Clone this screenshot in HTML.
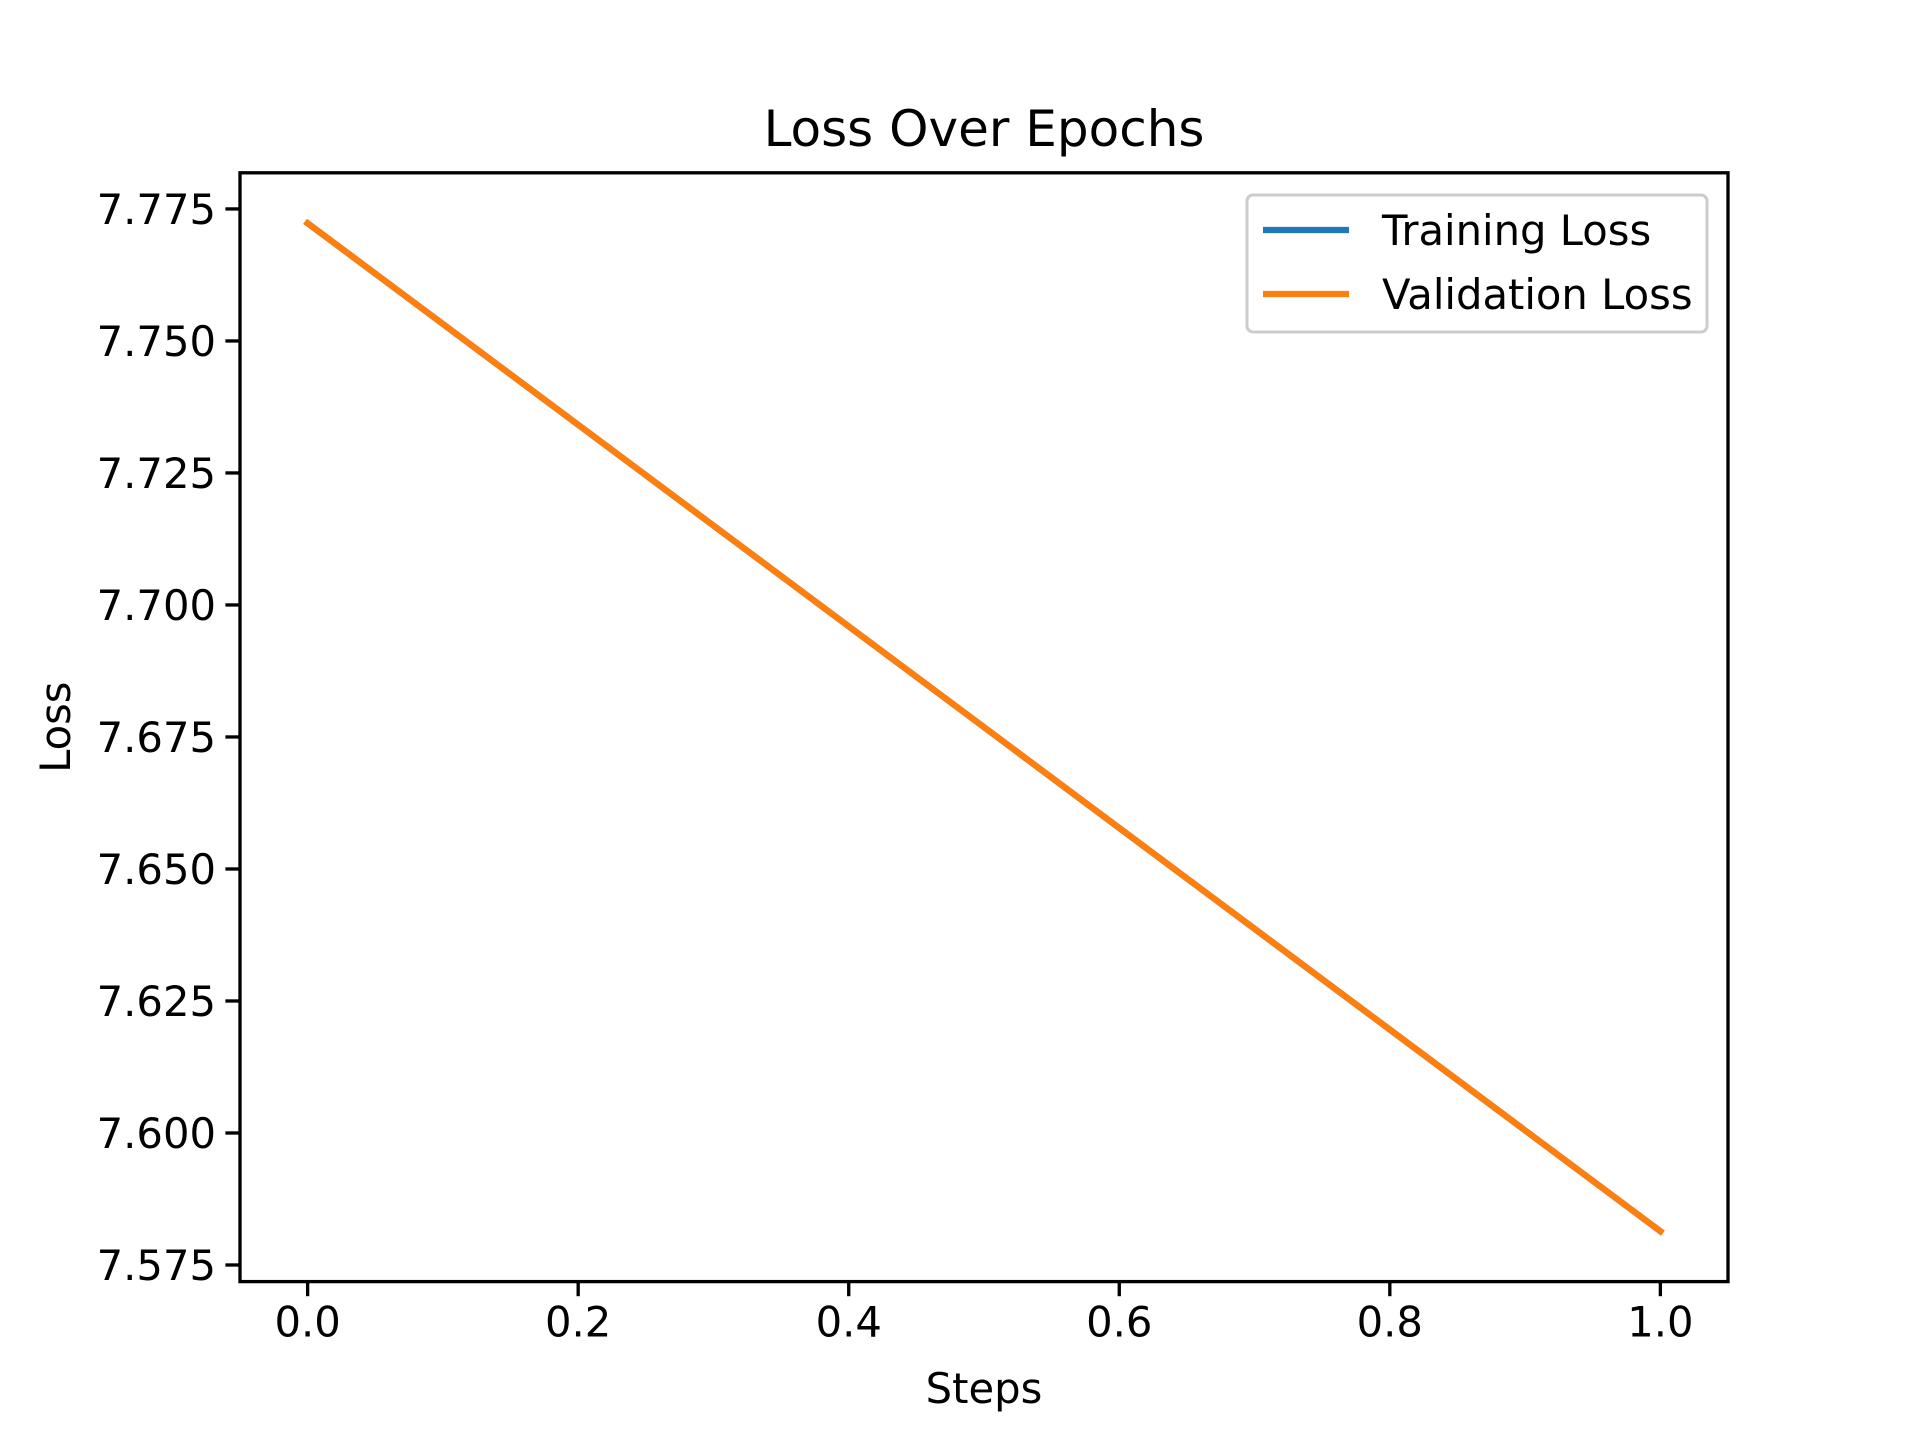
<!DOCTYPE html>
<html><head><meta charset="utf-8"><style>
html,body{margin:0;padding:0;background:#fff;}
svg{display:block;font-family:"DejaVu Sans","Liberation Sans",sans-serif;}
</style></head><body>
<svg id="chart" width="1920" height="1440" viewBox="0 0 1920 1440">
<rect width="1920" height="1440" fill="#fff"/>
<g id="plot"></g>
</svg>
<script>
const steps = [0, 1];
const trainingLoss = [7.7723, 7.5814];
const validationLoss = [7.7723, 7.5814];
const xTicks = [0.0, 0.2, 0.4, 0.6, 0.8, 1.0];
const xTickLabels = ["0.0","0.2","0.4","0.6","0.8","1.0"];
const yTicks = [7.575, 7.600, 7.625, 7.650, 7.675, 7.700, 7.725, 7.750, 7.775];
const yTickLabels = ["7.575","7.600","7.625","7.650","7.675","7.700","7.725","7.750","7.775"];

const L=240,R=1728,T=172.8,B=1281.6;
const xmin=-0.05,xmax=1.05;
const allY=trainingLoss.concat(validationLoss);
const dmin=Math.min(...allY),dmax=Math.max(...allY),pad=(dmax-dmin)*0.05;
const ymin=dmin-pad,ymax=dmax+pad;
const sx=v=>L+(v-xmin)/(xmax-xmin)*(R-L);
const sy=v=>B-(v-ymin)/(ymax-ymin)*(B-T);
const NS="http://www.w3.org/2000/svg";
const g=document.getElementById('plot');
function mk(tag,attrs,parent){const e=document.createElementNS(NS,tag);for(const k in attrs)e.setAttribute(k,attrs[k]);(parent||g).appendChild(e);return e;}

function drawLine(vals,color,name){
  const p=mk('polyline',{points:steps.map((s,i)=>sx(s)+','+sy(vals[i])).join(' '),fill:'none',stroke:color,'stroke-width':6.25,'stroke-linecap':'square'});
  
  
}
drawLine(trainingLoss,'#1f77b4','training-loss-line');
drawLine(validationLoss,'#ff7f0e','validation-loss-line');

const frame=mk('rect',{x:L,y:T,width:R-L,height:B-T,fill:'none',stroke:'#000','stroke-width':3.33});



xTicks.forEach((v,i)=>{
  const x=sx(v);
  const t=mk('line',{x1:x,x2:x,y1:B,y2:B+14.6,stroke:'#000','stroke-width':3.33});
  
  
  const tx=mk('text',{x:x,y:B+55,'font-size':41.7,'text-anchor':'middle',fill:'#000'});
  tx.textContent=xTickLabels[i];
  
  
});
yTicks.forEach((v,i)=>{
  const y=sy(v);
  const t=mk('line',{x1:L-14.6,x2:L,y1:y,y2:y,stroke:'#000','stroke-width':3.33});
  
  
  const tx=mk('text',{x:L-24,y:y+15,'font-size':41.7,'text-anchor':'end',fill:'#000'});
  tx.textContent=yTickLabels[i];
  
  
});

const title=mk('text',{x:(L+R)/2,y:146,'font-size':50,'text-anchor':'middle',fill:'#000'});
title.textContent='Loss Over Epochs';


const xl=mk('text',{x:(L+R)/2,y:1403,'font-size':41.7,'text-anchor':'middle',fill:'#000'});
xl.textContent='Steps';


const yl=mk('text',{x:0,y:0,'font-size':41.7,'text-anchor':'middle',fill:'#000',transform:'translate(70,'+((T+B)/2)+') rotate(-90)'});
yl.textContent='Loss';



const lg=mk('g',{});


mk('rect',{x:1254,y:195,width:460,height:137,rx:6,fill:'#fff','fill-opacity':0.8,stroke:'#ccc','stroke-width':3},lg);
[['Training Loss','#1f77b4',230],['Validation Loss','#ff7f0e',294]].forEach(([lab,c,y])=>{
  const e=mk('g',{},lg);
  
  
  mk('line',{x1:1270,x2:1356,y1:y,y2:y,stroke:c,'stroke-width':6.25},e);
  const t=mk('text',{x:1389,y:y+15,'font-size':41.7,fill:'#000'},e);
  t.textContent=lab;
});
lg.setAttribute('transform','translate(-7,0)');
</script>
</body></html>
